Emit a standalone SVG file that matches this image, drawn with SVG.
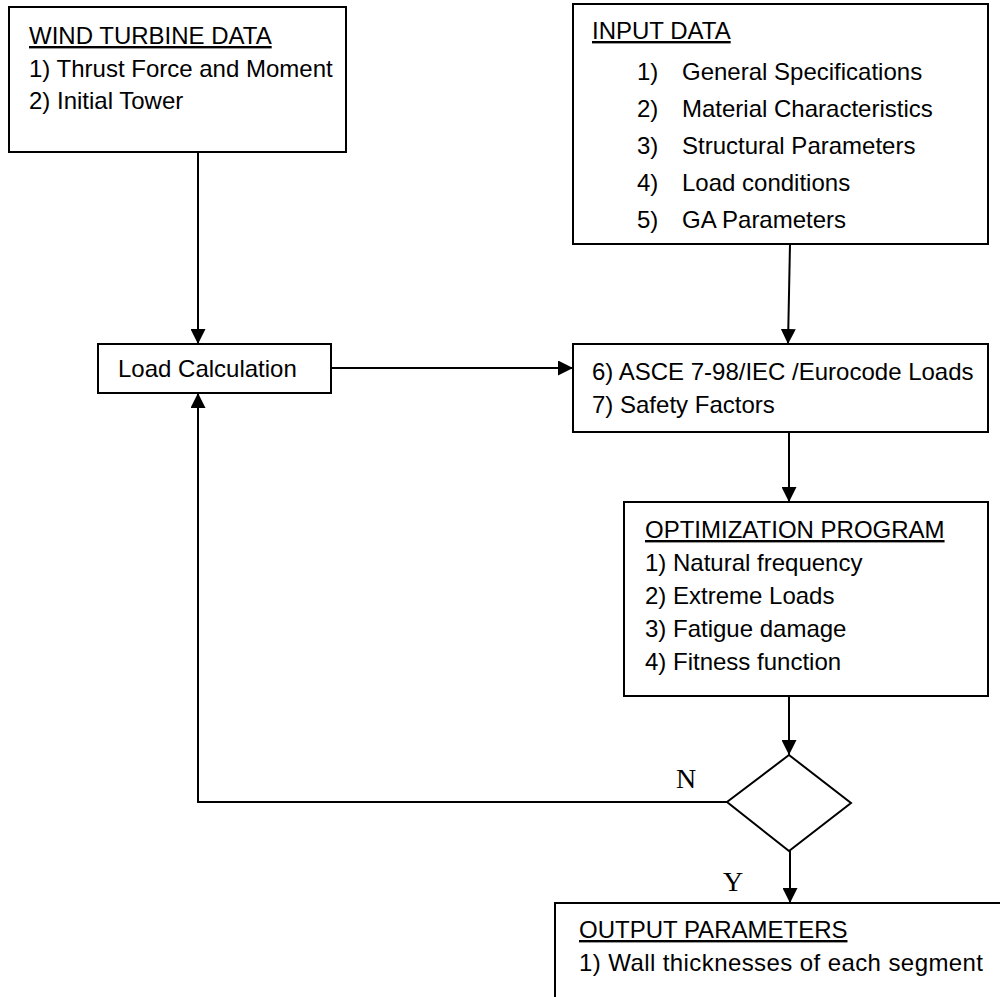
<svg xmlns="http://www.w3.org/2000/svg" width="1000" height="997" viewBox="0 0 1000 997">
<style>
.box{fill:#fff;stroke:#000;stroke-width:2}
.t{font-family:"Liberation Sans",Arial,sans-serif;font-size:24px;fill:#000}
.u{text-decoration:underline}
.c{fill:none;stroke:#000;stroke-width:2}
.yn{font-family:"Liberation Serif","Times New Roman",serif;font-size:28px;fill:#000}
</style>
<defs>
<marker id="ah" viewBox="0 0 10 10" refX="10" refY="5" markerWidth="15" markerHeight="15" markerUnits="userSpaceOnUse" orient="auto"><path d="M0,0 L10,5 L0,10 z" fill="#000"/></marker>
</defs>
<rect width="1000" height="997" fill="#fff"/>
<g id="connectors">
<path class="c" d="M198,152 V344" marker-end="url(#ah)"/>
<path class="c" d="M790,244 L788,344" marker-end="url(#ah)"/>
<path class="c" d="M331,368 H573" marker-end="url(#ah)"/>
<path class="c" d="M789,432 V502" marker-end="url(#ah)"/>
<path class="c" d="M789,696 V755" marker-end="url(#ah)"/>
<path class="c" d="M727,802 H198 V393" marker-end="url(#ah)"/>
<path class="c" d="M790,851 V903" marker-end="url(#ah)"/>
</g>
<g id="wind-turbine-data">
<rect class="box" x="9" y="7" width="337" height="145"/>
<text class="t u" x="29" y="44">WIND TURBINE DATA</text>
<text class="t" x="29" y="77">1) Thrust Force and Moment</text>
<text class="t" x="29" y="109">2) Initial Tower</text>
</g>
<g id="input-data">
<rect class="box" x="573" y="4" width="415" height="240"/>
<text class="t u" x="592" y="39">INPUT DATA</text>
<text class="t" x="637" y="80">1)</text><text class="t" x="682" y="80">General Specifications</text>
<text class="t" x="637" y="117">2)</text><text class="t" x="682" y="117">Material Characteristics</text>
<text class="t" x="637" y="154">3)</text><text class="t" x="682" y="154">Structural Parameters</text>
<text class="t" x="637" y="191">4)</text><text class="t" x="682" y="191">Load conditions</text>
<text class="t" x="637" y="228">5)</text><text class="t" x="682" y="228">GA Parameters</text>
</g>
<g id="load-calculation">
<rect class="box" x="98" y="344" width="233" height="49"/>
<text class="t" x="118" y="377">Load Calculation</text>
</g>
<g id="loads">
<rect class="box" x="573" y="344" width="415" height="88"/>
<text class="t" x="592" y="380">6) ASCE 7-98/IEC /Eurocode Loads</text>
<text class="t" x="592" y="413">7) Safety Factors</text>
</g>
<g id="optimization-program">
<rect class="box" x="624" y="502" width="364" height="194"/>
<text class="t u" x="645" y="538">OPTIMIZATION PROGRAM</text>
<text class="t" x="645" y="571">1) Natural frequency</text>
<text class="t" x="645" y="604">2) Extreme Loads</text>
<text class="t" x="645" y="637">3) Fatigue damage</text>
<text class="t" x="645" y="670">4) Fitness function</text>
</g>
<g id="decision">
<polygon class="box" points="789,755 851,803 789,851 727,802"/>
<text class="yn" x="676" y="788">N</text>
<text class="yn" x="723" y="891">Y</text>
</g>
<g id="output-parameters">
<path class="box" d="M555,1000 V903 H1002 V1000"/>
<text class="t u" x="579" y="938">OUTPUT PARAMETERS</text>
<text class="t" x="579" y="971" textLength="404">1) Wall thicknesses of each segment</text>
</g>
</svg>
